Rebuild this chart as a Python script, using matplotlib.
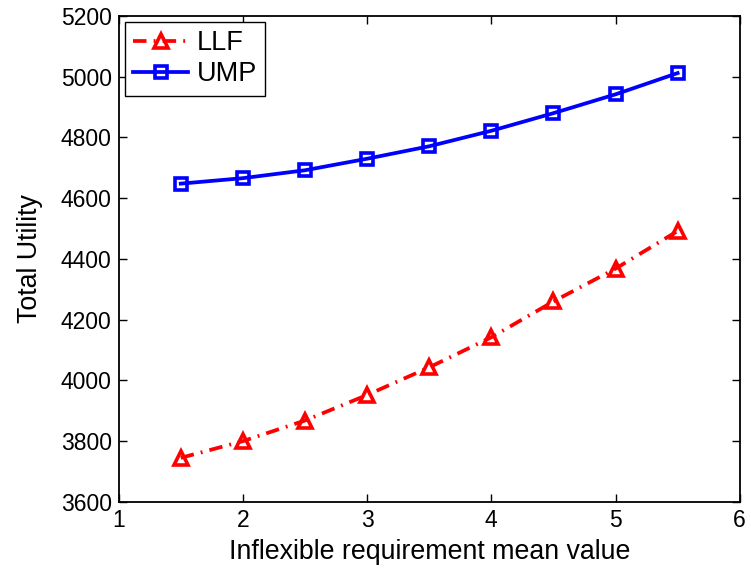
import matplotlib
matplotlib.use("Agg")
import matplotlib.pyplot as plt

plt.rcParams["font.family"] = ["Liberation Sans", "DejaVu Sans"]

# Utility versus mean inflexible requirement
mean_values = [1.5, 2.0, 2.5, 3.0, 3.5, 4.0, 4.5, 5.0, 5.5]
llf_utility = [3745, 3800, 3868, 3952, 4043, 4142, 4260, 4368, 4492]
ump_utility = [4648, 4666, 4692, 4730, 4771, 4822, 4880, 4942, 5012]

fig = plt.figure(figsize=(7.51, 5.71), dpi=100)
ax = fig.add_axes([0.158, 0.121, 0.827, 0.851])

ax.plot(mean_values, llf_utility, color="red", linestyle=(0, (3.6, 1.9, 0.5, 1.9)),
        linewidth=2.7, marker="^", markersize=10, markerfacecolor="none",
        markeredgewidth=2.6, label="LLF")
ax.plot(mean_values, ump_utility, color="blue", linestyle="-", linewidth=2.7,
        marker="s", markersize=8, markerfacecolor="none",
        markeredgewidth=2.6, label="UMP")

ax.set_xlim(1, 6)
ax.set_ylim(3600, 5200)
ax.set_xticks([1, 2, 3, 4, 5, 6])
ax.set_yticks(range(3600, 5201, 200))
for spine in ax.spines.values():
    spine.set_linewidth(1.3)
ax.tick_params(direction="in", top=True, right=True, labelsize=16.5,
               length=6, width=1.0, pad=5)
ax.set_xlabel("Inflexible requirement mean value", fontsize=19.3, labelpad=5)
ax.set_ylabel("Total Utility", fontsize=19.3, labelpad=13)

leg = ax.legend(loc="upper left", fontsize=19.5, fancybox=False,
                edgecolor="black", framealpha=1, handlelength=2.05,
                borderaxespad=0.22, borderpad=0.3, labelspacing=0.2,
                handletextpad=0.3)
leg.get_frame().set_linewidth(1.0)

fig.savefig("out.png", dpi=100)
